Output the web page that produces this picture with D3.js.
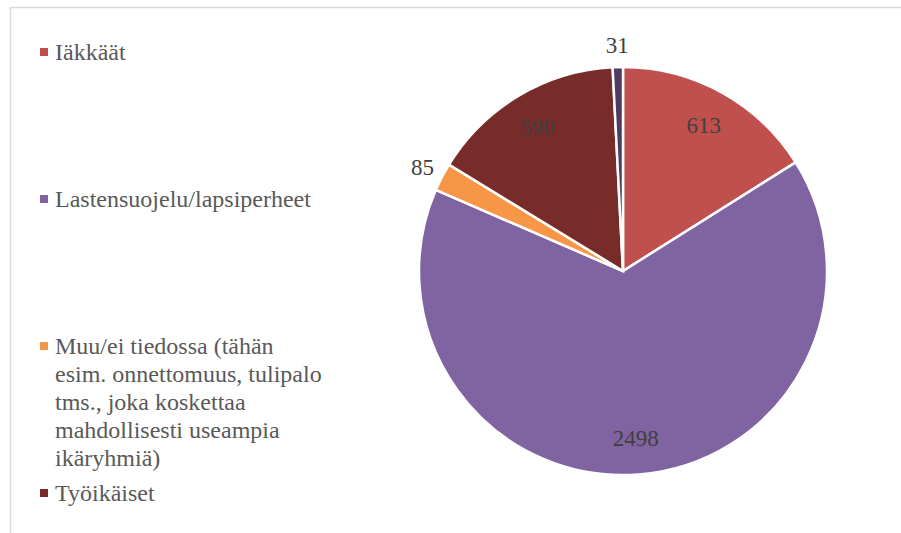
<!DOCTYPE html>
<html><head><meta charset="utf-8">
<script src="https://cdn.jsdelivr.net/npm/d3@7"></script>
<style>html,body{margin:0;padding:0;background:#fff}</style>
</head><body><svg id="c" width="901" height="533"></svg>
<script>
const categories = ["Iäkkäät", "Lastensuojelu/lapsiperheet", "Muu/ei tiedossa (tähän esim. onnettomuus, tulipalo tms., joka koskettaa mahdollisesti useampia ikäryhmiä)", "Työikäiset", ""];
const values = [613, 2498, 85, 590, 31];
const colors = ["#C0504D", "#8064A2", "#F79646", "#772C2A", "#4D3B62"];
const legendLines = [["Iäkkäät"], ["Lastensuojelu/lapsiperheet"], ["Muu/ei tiedossa (tähän", "esim. onnettomuus, tulipalo", "tms., joka koskettaa", "mahdollisesti useampia", "ikäryhmiä)"], ["Työikäiset"]];

const svg = d3.select("#c");
const font = "'Liberation Serif', serif";

// frame
svg.append("path").attr("d", "M10.5,533 V7.5 H901").attr("fill", "none").attr("stroke", "#d9d9d9").attr("stroke-width", 1.5);

const cx = 623, cy = 271, R = 204;
const data = values.map((v, i) => ({v, i, cat: categories[i]}));
const pie = d3.pie().value(d => d.v).sort(null).startAngle(0).endAngle(2 * Math.PI);
const arcs = pie(data);
const arc = d3.arc().innerRadius(0).outerRadius(R);
const g = svg.append("g").attr("transform", `translate(${cx},${cy})`);
g.selectAll("path.s").data(arcs).join("path").attr("class", "s")
  .attr("d", arc).attr("fill", d => colors[d.data.i])
  .attr("stroke", "#fff").attr("stroke-width", 2.5).attr("stroke-linejoin", "miter");

const inArc = d3.arc().innerRadius(R * 0.82).outerRadius(R * 0.82);
const outArc = d3.arc().innerRadius(R + 22).outerRadius(R + 22);
g.selectAll("text.l").data(arcs).join("text").attr("class", "l")
  .attr("transform", d => {
    const small = (d.endAngle - d.startAngle) < 0.2;
    const p = (small ? outArc : inArc).centroid(d);
    return `translate(${p[0]},${p[1]})`;
  })
  .attr("text-anchor", "middle").attr("dy", "0.35em")
  .attr("font-family", font).attr("font-size", 23).attr("fill", "#404040")
  .text(d => d3.format("d")(d.data.v));

// legend
const ly = d3.scaleLinear().domain([0, 1]).range([52, 199]);
const lg = svg.append("g");
legendLines.forEach((lines, i) => {
  const y0 = ly(i);
  lg.append("rect").attr("x", 40).attr("y", y0 - 4).attr("width", 8).attr("height", 8).attr("fill", colors[i]);
  const t = lg.append("text").attr("x", 55).attr("y", y0)
    .attr("font-family", font).attr("font-size", 24).attr("fill", "#595959");
  lines.forEach((ln, k) => t.append("tspan").attr("x", 55).attr("dy", k === 0 ? "0.35em" : 28).text(ln));
});
</script></body></html>
